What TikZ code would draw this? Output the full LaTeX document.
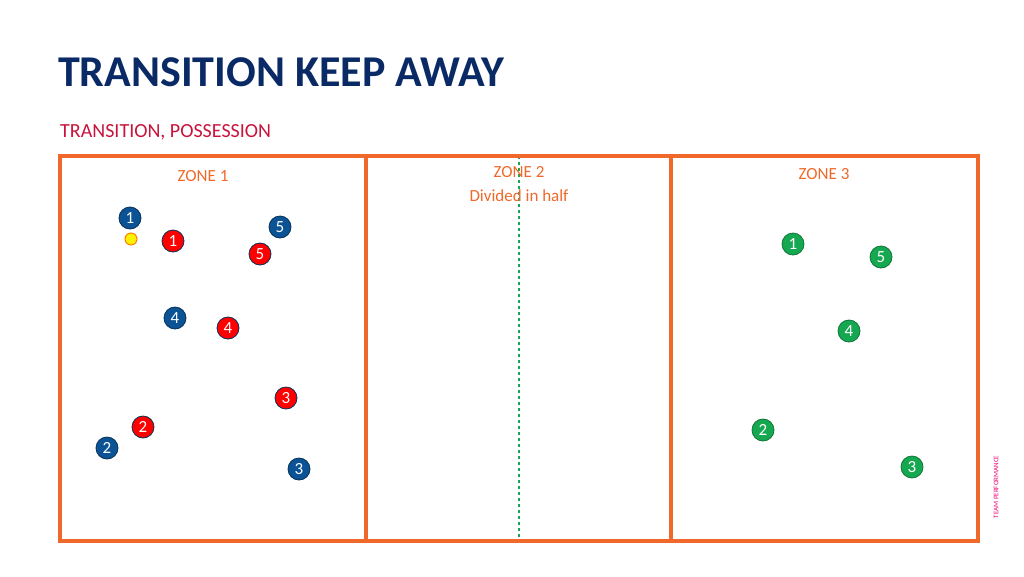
\documentclass[tikz,border=0pt]{standalone}
\usepackage{fontspec}
\setmainfont{Carlito}
\definecolor{navy}{HTML}{0A2A66}
\definecolor{crim}{HTML}{C8143C}
\definecolor{zor}{HTML}{F0682A}
\definecolor{pblue}{HTML}{0B5394}
\definecolor{pred}{HTML}{FF0000}
\definecolor{pgreen}{HTML}{16A850}
\begin{document}
\begin{tikzpicture}[x=1pt,y=-1pt,
  pl/.style={circle,draw=pblue!60!black,line width=0.8pt,minimum size=22pt,inner sep=0pt,text=white,font=\fontsize{17}{17}\selectfont},
  bl/.style={pl,fill=pblue},
  rd/.style={pl,fill=pred},
  gr/.style={pl,fill=pgreen,draw=pgreen!70!black},
  zone/.style={text=zor,font=\fontsize{17}{20}\selectfont}]
\useasboundingbox (0,0) rectangle (1024,576);
\node[anchor=base west,text=navy,inner sep=0pt,font=\fontsize{44}{44}\selectfont\bfseries] (t) at (58,86) {TRANSITION KEEP AWAY};
\node[anchor=base west,text=crim,inner sep=0pt,font=\fontsize{20}{20}\selectfont] (s) at (60,137) {TRANSITION, POSSESSION};
\draw[pgreen,dashed,line width=1.2pt] (519,156) coordinate (d1) -- (519,541) coordinate (d2);
\draw[zor,line width=3.5pt] (60,156) rectangle (978,541);
\draw[zor,line width=3.5pt] (366,156) -- (366,541) (671,156) -- (671,541);
\node[zone] (z1) at (203,176) {ZONE 1};
\node[zone] (z2) at (519,172) {ZONE 2};
\node[zone] (z2b) at (519,196) {Divided in half};
\node[zone] (z3) at (824,174) {ZONE 3};
\node[rotate=90,text=magenta!80!red,font=\fontsize{7}{7}\selectfont] (tp) at (996,487) {TEAM PERFORMANCE};
\node[bl] (b1) at (130,218) {1};
\node[bl] (b5) at (280,227) {5};
\node[bl] (b4) at (175,318) {4};
\node[bl] (b2) at (107,448) {2};
\node[bl] (b3) at (299,469) {3};
\node[rd] (r1) at (173,241) {1};
\node[rd] (r5) at (260,254) {5};
\node[rd] (r4) at (228,328) {4};
\node[rd] (r3) at (286,398) {3};
\node[rd] (r2) at (143,427) {2};
\node[circle,fill=yellow,draw=orange,line width=1pt,minimum size=12pt,inner sep=0pt] (ball) at (131,239) {};
\node[gr] (g1) at (793,244) {1};
\node[gr] (g5) at (881,257) {5};
\node[gr] (g4) at (849,331) {4};
\node[gr] (g2) at (763,430) {2};
\node[gr] (g3) at (912,467) {3};
\end{tikzpicture}
\end{document}
